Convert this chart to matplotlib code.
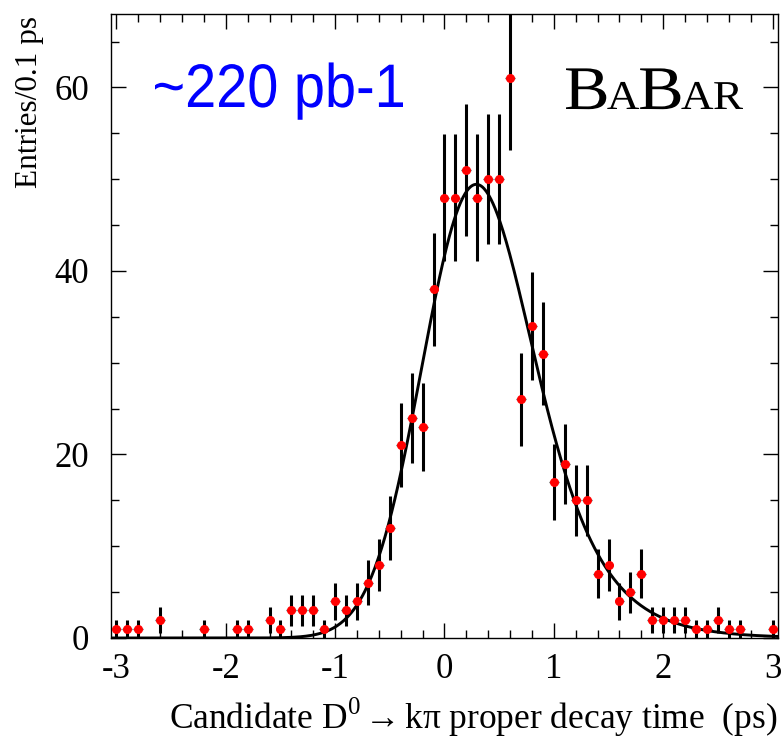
import math
import numpy as np
import matplotlib
matplotlib.use('Agg')
import matplotlib.pyplot as plt
from matplotlib.textpath import TextPath
from matplotlib.patches import PathPatch
from matplotlib.transforms import Affine2D
from matplotlib.font_manager import FontProperties

# proper decay time bins (ps) and entries per 0.1 ps
t_bins = [-3.0, -2.9, -2.8, -2.6, -2.2, -1.9, -1.8, -1.6, -1.5, -1.4,
          -1.3, -1.2, -1.1, -1.0, -0.9, -0.8, -0.7, -0.6, -0.5, -0.4,
          -0.3, -0.2, -0.1, 0.0, 0.1, 0.2, 0.3, 0.4, 0.5, 0.6,
          0.7, 0.8, 0.9, 1.0, 1.1, 1.2, 1.3, 1.4, 1.5, 1.6,
          1.7, 1.8, 1.9, 2.0, 2.1, 2.2, 2.3, 2.4, 2.5, 2.6,
          2.7, 3.0]
entries = [1, 1, 1, 2, 1, 1, 1, 2, 1, 3,
           3, 3, 1, 4, 3, 4, 6, 8, 12, 21,
           24, 23, 38, 48, 48, 51, 48, 50, 50, 61,
           26, 34, 31, 17, 19, 15, 15, 7, 8, 4,
           5, 7, 2, 2, 2, 2, 1, 1, 2, 1,
           1, 1]

# lifetime fit: exponential (tau) convolved with gaussian resolution
fit_mu = 0.0
fit_sigma = 0.43
fit_tau = 0.41
fit_area = 67.0

def fit_func(t):
    z = (t - fit_mu) / fit_sigma - fit_sigma / fit_tau
    phi = np.array([0.5 * math.erfc(-v / math.sqrt(2)) for v in z])
    return fit_area / fit_tau * np.exp(fit_sigma**2 / (2 * fit_tau**2) - (t - fit_mu) / fit_tau) * phi

plt.rcParams['font.family'] = ['Liberation Serif', 'DejaVu Serif']
plt.rcParams['mathtext.fontset'] = 'custom'
plt.rcParams['mathtext.rm'] = 'Liberation Serif'

W, H = 782, 738
fig = plt.figure(figsize=(W / 100, H / 100), dpi=100)
ax = fig.add_axes([111 / W, 1 - 638 / H, 667 / W, 624 / H])

t = np.array(t_bins)
n = np.array(entries, dtype=float)

tt = np.linspace(-3.05, 3.05, 600)
ax.plot(tt, fit_func(tt), color='black', lw=2.1, zorder=2)

ax.errorbar(t, n, yerr=np.sqrt(n), fmt='none', ecolor='black', elinewidth=2.2, zorder=3)
ax.errorbar(t, n, xerr=0.045, fmt='none', ecolor='#333333', elinewidth=1.0, zorder=3)
ax.plot(t, n, 'o', color='red', ms=5.5, mec='red', zorder=4)

ax.set_xlim(-3.05, 3.05)
ax.set_ylim(0, 68)
ax.set_xticks([-3, -2, -1, 0, 1, 2, 3])
ax.set_xticklabels(['-3', '-2', '-1', '0', '1', '2', '3'])
ax.set_xticks(np.arange(-3, 3.01, 0.2), minor=True)
ax.set_yticks([0, 20, 40, 60])
ax.set_yticks(np.arange(0, 68, 5), minor=True)
ax.tick_params(which='both', direction='in', top=True, right=True, width=1.0, colors='black')
ax.tick_params(which='major', length=11, labelsize=25)
ax.tick_params(which='minor', length=6)
ax.tick_params(axis='x', which='major', pad=11)
ax.tick_params(axis='y', which='major', pad=16)
for s in ax.spines.values():
    s.set_linewidth(1.0)

fig.text(30 / W, 1 - 102 / H, 'Entries/0.1 ps', rotation=90, ha='center', va='center', fontsize=22.5)
fig.text(473 / W, 1 - 729 / H, 'Candidate D$^{0}$ $\\!\\!\\rightarrow\\!\\!$ k\u03c0 proper decay time  (ps)',
         ha='center', va='baseline', fontsize=25.5)

# luminosity label, drawn as a path so it can be narrowed
lumi = TextPath((0, 0), '~220 pb-1', size=61.5, prop=FontProperties(family='Liberation Sans'))
lb = lumi.get_extents()
tr = Affine2D().translate(-lb.x0, 0).scale(248 / lb.width, 1.0).translate(155, H - 107)
fig.add_artist(PathPatch(lumi, transform=tr, facecolor='blue', edgecolor='none'))

# BaBar logo in small caps
logo = [('B', 62), ('A', 41), ('B', 62), ('A', 41), ('R', 41)]
serif = FontProperties(family='Liberation Serif')
paths = [TextPath((0, 0), ch, size=sz, prop=serif) for ch, sz in logo]
widths = [p.get_extents().width for p in paths]
gap = 1.0
sx = (177 - gap * (len(paths) - 1)) / sum(widths)
cursor = 566
for p, w in zip(paths, widths):
    b = p.get_extents()
    tr = Affine2D().translate(-b.x0, 0).scale(sx, 1.0).translate(cursor, H - 109)
    fig.add_artist(PathPatch(p, transform=tr, facecolor='black', edgecolor='none', lw=0.6))
    cursor += w * sx + gap

fig.savefig('out.png', dpi=100)
